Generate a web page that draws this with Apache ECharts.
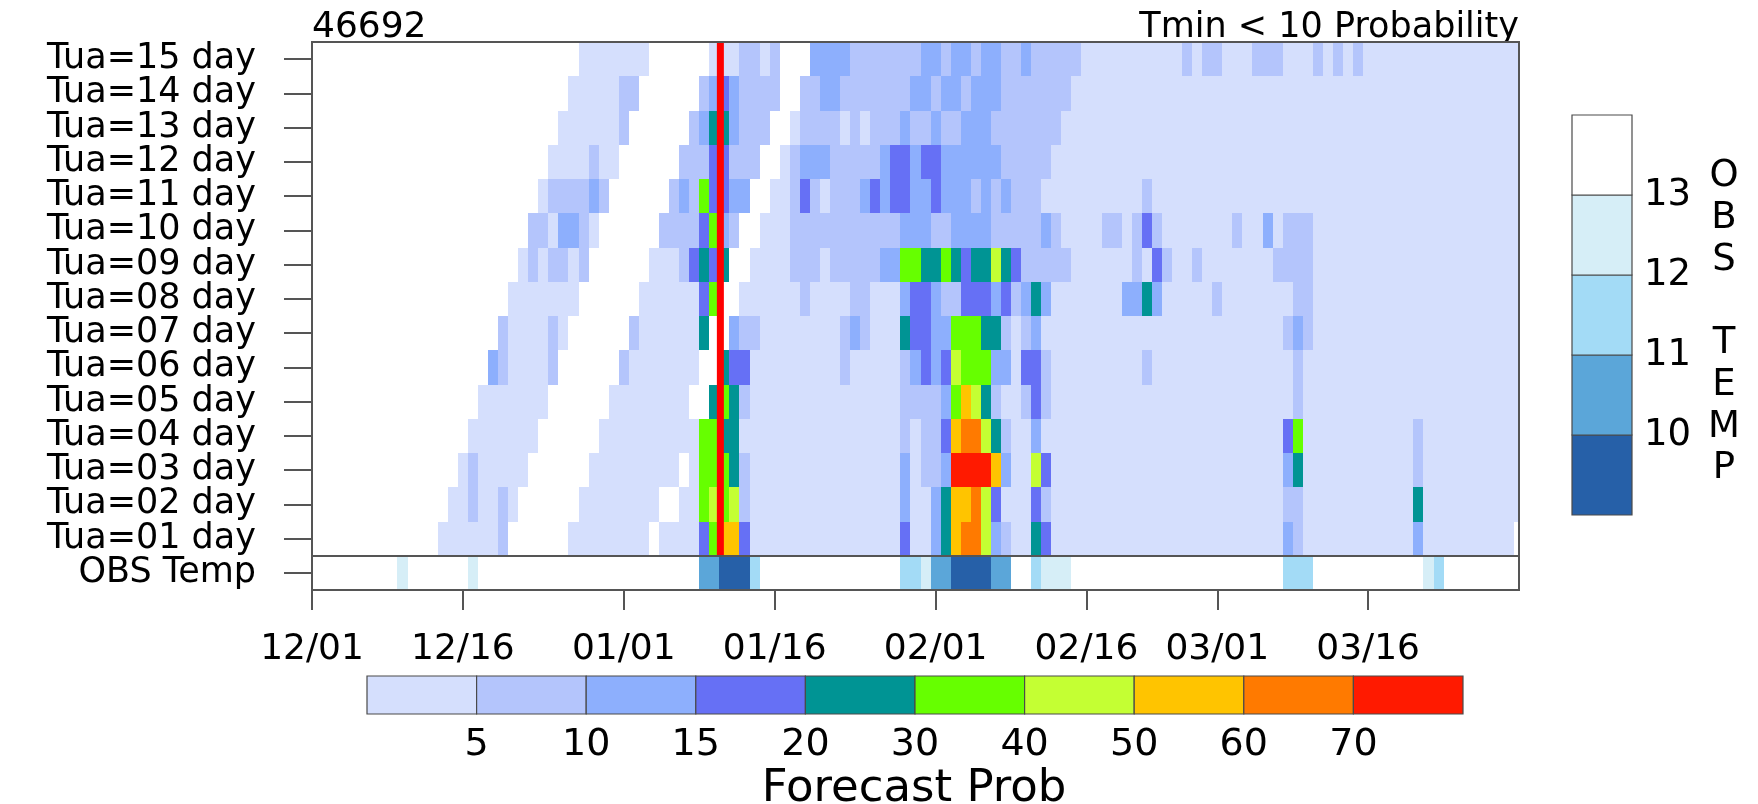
<!DOCTYPE html>
<html>
<head>
<meta charset="utf-8">
<script src="https://cdn.jsdelivr.net/npm/echarts@6/dist/echarts.min.js"></script>
<style>
  html, body { margin: 0; padding: 0; background: #ffffff; }
  #chart { width: 1758px; height: 804px; }
</style>
</head>
<body>
<div id="chart"></div>
<script>
// ---------------- data ----------------
const stationId = '46692';
const chartTitle = 'Tmin < 10 Probability';
const rowLabels = ['OBS Temp',
  'Tua=01 day', 'Tua=02 day', 'Tua=03 day', 'Tua=04 day', 'Tua=05 day',
  'Tua=06 day', 'Tua=07 day', 'Tua=08 day', 'Tua=09 day', 'Tua=10 day',
  'Tua=11 day', 'Tua=12 day', 'Tua=13 day', 'Tua=14 day', 'Tua=15 day'];

// day 0 = 12/01, day 120 = 03/31
const dayCount = 120;
const tickDays = [0, 15, 31, 46, 62, 77, 90, 105];
const tickLabels = ['12/01', '12/16', '01/01', '01/16', '02/01', '02/16', '03/01', '03/16'];

const probThresholds = [5, 10, 15, 20, 30, 40, 50, 60, 70];
const probColors = ['#d5dffd', '#b4c5fc', '#8daffd', '#6670f5', '#009494',
                    '#66ff00', '#c4ff33', '#ffc400', '#ff7a00', '#ff1a00'];
const tempThresholds = [10, 11, 12, 13];
const tempColors = ['#2660a8', '#5ba6d9', '#a3dbf6', '#d6eef7', '#ffffff'];
const probTitle = 'Forecast Prob';
const tempTitle = 'OBS TEMP';

// day of the forecast reference line
const refDay = 40.6;

// forecast probability (%) per lead time, as runs: [firstDay, lastDay, prob]
const tua15 = [[27,33,3],[40,42,3],[43,44,8],[45,45,3],[46,46,8],[50,53,12],[54,60,8],[61,62,12],[63,63,8],[64,65,12],[66,66,8],[67,68,12],[69,70,8],[71,71,12],[72,76,8],[77,86,3],[87,87,8],[88,88,3],[89,90,8],[91,93,3],[94,96,8],[97,99,3],[100,100,8],[101,101,3],[102,102,8],[103,103,3],[104,104,8],[105,120,3]];
const tua14 = [[26,30,3],[31,32,8],[39,39,8],[40,40,12],[41,41,17],[42,42,12],[43,46,8],[49,50,8],[51,52,12],[53,59,8],[60,61,12],[62,62,8],[63,64,12],[65,65,8],[66,68,12],[69,75,8],[76,120,3]];
const tua13 = [[25,30,3],[31,31,8],[38,38,8],[39,39,12],[40,41,25],[42,42,12],[43,45,8],[48,48,3],[49,52,8],[53,53,3],[54,54,8],[55,55,3],[56,58,8],[59,59,12],[60,61,8],[62,62,12],[63,64,8],[65,67,12],[68,74,8],[75,120,3]];
const tua12 = [[24,27,3],[28,28,8],[29,30,3],[37,39,8],[40,41,17],[42,44,8],[47,47,3],[48,48,8],[49,51,12],[52,56,8],[57,57,12],[58,59,17],[60,60,12],[61,62,17],[63,68,12],[69,73,8],[74,120,3]];
const tua11 = [[23,23,3],[24,27,8],[28,28,12],[29,29,8],[36,36,8],[37,37,12],[38,38,8],[39,39,35],[40,41,17],[42,43,12],[46,47,3],[48,48,8],[49,49,17],[50,50,8],[51,51,3],[52,54,8],[55,55,12],[56,56,17],[57,57,12],[58,59,17],[60,61,12],[62,62,17],[63,65,12],[66,66,8],[67,67,12],[68,68,8],[69,69,12],[70,72,8],[73,82,3],[83,83,8],[84,120,3]];
const tua10 = [[22,23,8],[24,24,3],[25,26,12],[27,27,8],[28,28,3],[35,38,8],[39,39,17],[40,40,35],[41,41,12],[42,42,8],[45,47,3],[48,58,8],[59,61,12],[62,63,8],[64,67,12],[68,72,8],[73,73,12],[74,74,8],[75,78,3],[79,80,8],[81,81,3],[82,82,8],[83,83,17],[84,84,8],[85,91,3],[92,92,8],[93,94,3],[95,95,12],[96,96,3],[97,99,8],[100,120,3]];
const tua09 = [[21,21,3],[22,22,8],[23,23,3],[24,25,8],[26,26,3],[27,27,8],[34,36,3],[37,37,8],[38,38,17],[39,39,25],[40,40,17],[41,41,25],[44,47,3],[48,50,8],[51,51,3],[52,56,8],[57,58,12],[59,60,35],[61,62,25],[63,63,35],[64,64,25],[65,65,17],[66,67,25],[68,68,45],[69,69,25],[70,70,17],[71,75,8],[76,81,3],[82,82,8],[83,83,3],[84,84,17],[85,85,8],[86,87,3],[88,88,8],[89,95,3],[96,99,8],[100,120,3]];
const tua08 = [[20,26,3],[33,38,3],[39,39,17],[40,40,35],[43,48,3],[49,49,8],[50,53,3],[54,55,8],[56,58,3],[59,59,12],[60,61,17],[62,62,12],[63,64,8],[65,67,17],[68,68,12],[69,69,17],[70,70,8],[71,71,12],[72,72,25],[73,73,12],[74,80,3],[81,82,12],[83,83,25],[84,84,12],[85,89,3],[90,90,8],[91,97,3],[98,99,8],[100,120,3]];
const tua07 = [[19,19,8],[20,23,3],[24,24,8],[25,25,3],[32,32,8],[33,38,3],[39,39,25],[42,42,12],[43,44,8],[45,52,3],[53,53,8],[54,54,12],[55,55,8],[56,58,3],[59,59,25],[60,61,17],[62,63,12],[64,66,35],[67,68,25],[69,69,8],[70,70,3],[71,71,8],[72,72,12],[73,96,3],[97,97,8],[98,98,12],[99,99,8],[100,120,3]];
const tua06 = [[18,18,12],[19,19,8],[20,23,3],[24,24,8],[31,31,8],[32,38,3],[41,41,25],[42,43,17],[44,52,3],[53,53,8],[54,58,3],[59,59,8],[60,60,12],[61,61,17],[62,62,12],[63,63,17],[64,64,45],[65,67,35],[68,69,12],[70,70,3],[71,72,17],[73,73,8],[74,82,3],[83,83,8],[84,97,3],[98,98,8],[99,120,3]];
const tua05 = [[17,23,3],[30,37,3],[40,40,25],[41,41,35],[42,42,25],[43,43,8],[44,58,3],[59,62,8],[63,63,12],[64,64,35],[65,65,55],[66,66,45],[67,67,25],[68,68,8],[69,70,3],[71,71,8],[72,72,17],[73,73,8],[74,97,3],[98,98,8],[99,120,3]];
const tua04 = [[16,22,3],[29,38,3],[39,40,35],[41,42,25],[43,58,3],[59,59,8],[60,60,3],[61,62,8],[63,63,17],[64,64,55],[65,66,65],[67,67,45],[68,68,25],[69,69,8],[70,71,3],[72,72,12],[73,96,3],[97,97,17],[98,98,35],[99,109,3],[110,110,8],[111,120,3]];
const tua03 = [[15,15,3],[16,16,8],[17,21,3],[28,36,3],[38,38,3],[39,41,35],[42,42,25],[43,43,8],[44,58,3],[59,59,12],[60,60,3],[61,62,8],[63,63,12],[64,67,75],[68,68,55],[69,69,12],[70,71,3],[72,72,45],[73,73,17],[74,96,3],[97,97,12],[98,98,25],[99,109,3],[110,110,8],[111,120,3]];
const tua02 = [[14,15,3],[16,16,8],[17,18,3],[19,19,8],[20,20,3],[27,34,3],[37,38,3],[39,39,35],[40,40,45],[41,41,35],[42,42,45],[43,43,8],[44,58,3],[59,59,12],[60,61,3],[62,62,12],[63,63,25],[64,65,55],[66,66,65],[67,67,45],[68,68,17],[69,71,3],[72,72,17],[73,73,8],[74,96,3],[97,98,8],[99,109,3],[110,110,25],[111,120,3]];
const tua01 = [[13,18,3],[19,19,8],[26,33,3],[35,38,3],[39,39,17],[40,40,35],[41,42,55],[43,43,17],[44,58,3],[59,59,17],[60,61,3],[62,62,12],[63,63,25],[64,64,55],[65,66,65],[67,67,45],[68,68,12],[69,69,8],[70,71,3],[72,72,25],[73,73,17],[74,96,3],[97,97,12],[98,98,8],[99,109,3],[110,110,12],[111,119,3]];

// observed minimum temperature (deg C) on the days it fell below 13
const obsTemp = [[9,12.5],[16,12.5],[39,10.5],[40,10.5],[41,9.5],[42,9.5],[43,9.5],[44,11.5],
  [59,11.5],[60,11.5],[61,12.5],[62,10.5],[63,10.5],[64,9.5],[65,9.5],[66,9.5],[67,9.5],
  [68,10.5],[69,10.5],[72,11.5],[73,12.5],[74,12.5],[75,12.5],[97,11.5],[98,11.5],[99,11.5],
  [111,12.5],[112,11.5]];

// ---------------- helpers ----------------
const leadRuns = [tua01, tua02, tua03, tua04, tua05, tua06, tua07, tua08,
                  tua09, tua10, tua11, tua12, tua13, tua14, tua15];

function binIndex(v, thresholds) {
  let i = 0;
  while (i < thresholds.length && v >= thresholds[i]) i++;
  return i;
}
const probColor = p => probColors[binIndex(p, probThresholds)];
const tempColor = t => tempColors[binIndex(t, tempThresholds)];

// [firstDay, lastDay, rowIndex, value]
const forecastCells = [];
leadRuns.forEach((runs, k) => {
  runs.forEach(r => forecastCells.push([r[0], r[1], k + 1, r[2]]));
});
const obsCells = obsTemp.map(o => [o[0], o[0], 0, o[1]]);

function clipToGrid(rect, params) {
  const cs = params.coordSys;
  return echarts.graphic.clipRectByRect(rect, { x: cs.x, y: cs.y, width: cs.width, height: cs.height });
}

// cells snapped to whole pixels so neighbouring rows meet without seams
function makeCellRenderer(colorFn) {
  return function (params, api) {
    const row = api.value(2);
    const a = api.coord([api.value(0) - 0.5, row]);
    const b = api.coord([api.value(1) + 0.5, row]);
    const h = api.size([0, 1])[1];
    const x0 = Math.round(a[0]), x1 = Math.round(b[0]);
    const y0 = Math.round(a[1] - h / 2), y1 = Math.round(a[1] + h / 2);
    const shape = clipToGrid({ x: x0, y: y0, width: x1 - x0, height: y1 - y0 }, params);
    if (!shape) return null;
    return { type: 'rect', shape: shape, style: { fill: colorFn(api.value(3)) } };
  };
}

// frame, OBS separator and reference line on the main panel
function renderOverlay(params, api) {
  const cs = params.coordSys;
  const h = api.size([0, 1])[1];
  const sepY = Math.round(api.coord([0, 0])[1] - h / 2);
  const topY = api.coord([0, rowLabels.length - 1])[1] - h / 2;
  const refX = api.coord([refDay, 1])[0];
  return {
    type: 'group',
    children: [
      { type: 'line', shape: { x1: refX, y1: topY, x2: refX, y2: sepY },
        style: { stroke: '#ff0000', lineWidth: 7 } },
      { type: 'line', shape: { x1: cs.x, y1: sepY, x2: cs.x + cs.width, y2: sepY },
        style: { stroke: '#555555', lineWidth: 2 } },
      { type: 'rect', shape: { x: cs.x, y: cs.y, width: cs.width, height: cs.height },
        style: { fill: null, stroke: '#555555', lineWidth: 2 } }
    ]
  };
}

function makeBarRenderer(colors, horizontal) {
  return function (params, api) {
    const i = api.value(0);
    const a = horizontal ? api.coord([i, 1]) : api.coord([0, i + 1]);
    const b = horizontal ? api.coord([i + 1, 0]) : api.coord([1, i]);
    return {
      type: 'rect',
      shape: { x: a[0], y: a[1], width: b[0] - a[0], height: b[1] - a[1] },
      style: { fill: colors[i], stroke: '#4a4a4a', lineWidth: 1.2 }
    };
  };
}

// ---------------- chart ----------------
const FONT = 'DejaVu Sans';
const chart = echarts.init(document.getElementById('chart'), null, { renderer: 'canvas' });

chart.setOption({
  backgroundColor: '#ffffff',
  animation: false,
  textStyle: { fontFamily: FONT, color: '#000' },
  grid: [
    { left: 312, top: 42, width: 1207, height: 548 },
    { left: 367, top: 676, width: 1096, height: 38 },
    { left: 1572, top: 115, width: 60, height: 400 }
  ],
  xAxis: [
    {
      gridIndex: 0, type: 'value', min: 0, max: dayCount,
      axisLine: { show: false },
      splitLine: { show: false },
      axisTick: { show: true, customValues: tickDays, length: 20, inside: false,
                  lineStyle: { color: '#555', width: 2 } },
      axisLabel: { customValues: tickDays, margin: 42, fontSize: 36, fontFamily: FONT, color: '#000',
                   formatter: v => tickLabels[tickDays.indexOf(v)] || '' }
    },
    {
      gridIndex: 1, type: 'value', min: 0, max: probColors.length, interval: 1,
      axisLine: { show: false }, axisTick: { show: false }, splitLine: { show: false },
      axisLabel: { margin: 12, fontSize: 38, fontFamily: FONT, color: '#000',
                   showMinLabel: false, showMaxLabel: false,
                   formatter: v => (v >= 1 && v <= probThresholds.length) ? String(probThresholds[v - 1]) : '' }
    },
    { gridIndex: 2, type: 'value', min: 0, max: 1, show: false }
  ],
  yAxis: [
    {
      gridIndex: 0, type: 'category', data: rowLabels,
      axisLine: { show: false },
      splitLine: { show: false },
      axisTick: { show: true, alignWithLabel: true, interval: 0, length: 28,
                  lineStyle: { color: '#555', width: 2 } },
      axisLabel: { interval: 0, margin: 56, fontSize: 35, fontFamily: FONT, color: '#000' }
    },
    { gridIndex: 1, type: 'value', min: 0, max: 1, show: false },
    {
      gridIndex: 2, type: 'value', min: 0, max: tempColors.length, interval: 1, position: 'right',
      axisLine: { show: false }, axisTick: { show: false }, splitLine: { show: false },
      axisLabel: { margin: 12, fontSize: 37, fontFamily: FONT, color: '#000',
                   showMinLabel: false, showMaxLabel: false,
                   formatter: v => (v >= 1 && v <= tempThresholds.length) ? String(tempThresholds[v - 1]) : '' }
    }
  ],
  series: [
    {
      name: 'forecast', type: 'custom', xAxisIndex: 0, yAxisIndex: 0,
      encode: { x: [0, 1], y: 2 },
      renderItem: makeCellRenderer(probColor),
      data: forecastCells, z: 2
    },
    {
      name: 'obs', type: 'custom', xAxisIndex: 0, yAxisIndex: 0,
      encode: { x: [0, 1], y: 2 },
      renderItem: makeCellRenderer(tempColor),
      data: obsCells, z: 2
    },
    {
      name: 'overlay', type: 'custom', xAxisIndex: 0, yAxisIndex: 0,
      renderItem: renderOverlay, data: [[0, 0]], z: 5, silent: true
    },
    {
      name: 'probBar', type: 'custom', xAxisIndex: 1, yAxisIndex: 1,
      renderItem: makeBarRenderer(probColors, true),
      data: probColors.map((c, i) => [i]), z: 2
    },
    {
      name: 'tempBar', type: 'custom', xAxisIndex: 2, yAxisIndex: 2,
      renderItem: makeBarRenderer(tempColors, false),
      data: tempColors.map((c, i) => [i]), z: 2
    }
  ],
  graphic: [
    { type: 'text', left: 312, top: 10,
      style: { text: stationId, font: '36px "' + FONT + '"', fill: '#000' } },
    { type: 'text', right: 1758 - 1519, top: 10,
      style: { text: chartTitle, font: '35px "' + FONT + '"', fill: '#000' } },
    { type: 'text', x: 914, y: 789,
      style: { text: probTitle, font: '45px "' + FONT + '"', fill: '#000',
               align: 'center', verticalAlign: 'middle' } },
    { type: 'text', x: 1724, y: 156,
      style: { text: tempTitle.split('').join('\n'), font: '37px "' + FONT + '"', fill: '#000',
               align: 'center', verticalAlign: 'top', lineHeight: 41.7 } }
  ]
});
</script>
</body>
</html>
